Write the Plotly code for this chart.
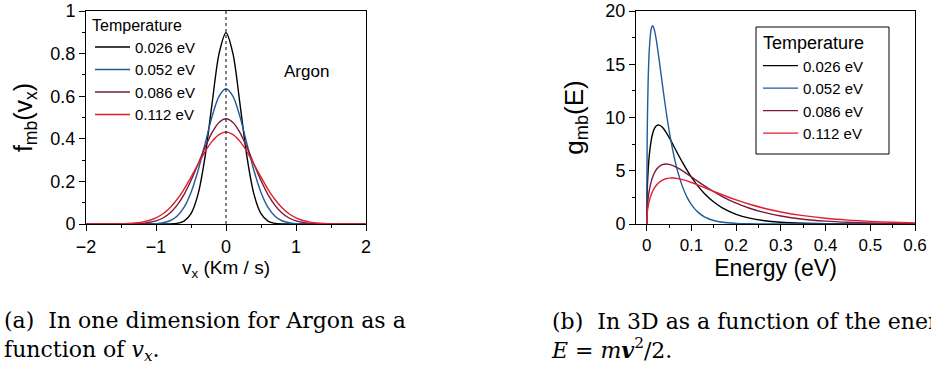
import plotly.graph_objects as go

# ---------------- data ----------------
temps = ["0.026 eV", "0.052 eV", "0.086 eV", "0.112 eV"]
colors = ["#000000", "#1f5c99", "#7b1a3c", "#e0202e"]

# (a) one-dimensional distribution, Argon
vx = [-2.0, -1.9, -1.8, -1.7, -1.6, -1.5, -1.4, -1.3, -1.2, -1.1,
      -1.0, -0.9, -0.8, -0.7, -0.6, -0.5, -0.4, -0.3, -0.2, -0.1,
      0.0,
      0.1, 0.2, 0.3, 0.4, 0.5, 0.6, 0.7, 0.8, 0.9, 1.0,
      1.1, 1.2, 1.3, 1.4, 1.5, 1.6, 1.7, 1.8, 1.9, 2.0]

f_0026 = [0, 0, 0, 0, 0, 0, 0, 0, 0, 0,
          0, 0.0001, 0.0005, 0.0030, 0.0135, 0.0486, 0.139, 0.314, 0.563, 0.799,
          0.898,
          0.799, 0.563, 0.314, 0.139, 0.0486, 0.0135, 0.0030, 0.0005, 0.0001, 0,
          0, 0, 0, 0, 0, 0, 0, 0, 0, 0]

f_0052 = [0, 0, 0, 0, 0, 0, 0, 0, 0.0001, 0.0006,
          0.0019, 0.0057, 0.0153, 0.0366, 0.078, 0.148, 0.250, 0.376, 0.503, 0.599,
          0.635,
          0.599, 0.503, 0.376, 0.250, 0.148, 0.078, 0.0366, 0.0153, 0.0057, 0.0019,
          0.0006, 0.0001, 0, 0, 0, 0, 0, 0, 0, 0]

f_0086 = [0, 0, 0, 0, 0.0001, 0.0002, 0.0005, 0.0013, 0.0030, 0.0068,
          0.0144, 0.0282, 0.0514, 0.0873, 0.138, 0.204, 0.281, 0.359, 0.429, 0.477,
          0.494,
          0.477, 0.429, 0.359, 0.281, 0.204, 0.138, 0.0873, 0.0514, 0.0282, 0.0144,
          0.0068, 0.0030, 0.0013, 0.0005, 0.0002, 0.0001, 0, 0, 0, 0]

f_0112 = [0, 0, 0.0001, 0.0002, 0.0004, 0.0010, 0.0022, 0.0045, 0.0088, 0.0164,
          0.0289, 0.0483, 0.0765, 0.115, 0.163, 0.220, 0.280, 0.339, 0.388, 0.420,
          0.432,
          0.420, 0.388, 0.339, 0.280, 0.220, 0.163, 0.115, 0.0765, 0.0483, 0.0289,
          0.0164, 0.0088, 0.0045, 0.0022, 0.0010, 0.0004, 0.0002, 0.0001, 0, 0]

# (b) 3D distribution as a function of energy
energy = [0, 0.001, 0.003, 0.006, 0.01, 0.013, 0.017, 0.022, 0.028, 0.035,
          0.043, 0.05, 0.06, 0.07, 0.08, 0.09, 0.1, 0.115, 0.13, 0.15,
          0.17, 0.2, 0.23, 0.26, 0.3, 0.35, 0.4, 0.45, 0.5, 0.55, 0.6]

g_black = [0, 2.95, 4.92, 6.57, 7.85, 8.45, 8.95, 9.24, 9.29, 9.08,
           8.63, 8.13, 7.35, 6.55, 5.78, 5.06, 4.40, 3.53, 2.82, 2.06,
           1.49, 0.909, 0.547, 0.327, 0.163, 0.067, 0.0275, 0.0111, 0.0045, 0.0018, 0.0007]

g_blue = [0, 8.19, 13.14, 16.55, 18.32, 18.62, 18.25, 17.13, 15.34, 13.11,
          10.68, 8.80, 6.56, 4.82, 3.51, 2.53, 1.82, 1.09, 0.654, 0.326,
          0.161, 0.055, 0.0186, 0.0062, 0.0014, 0.0002, 0, 0, 0, 0, 0]

g_maroon = [0, 1.398, 2.366, 3.232, 3.983, 4.386, 4.787, 5.138, 5.406, 5.572,
            5.627, 5.593, 5.455, 5.245, 4.992, 4.713, 4.423, 3.984, 3.558, 3.028,
            2.555, 1.956, 1.479, 1.110, 0.749, 0.452, 0.270, 0.160, 0.0944, 0.0553, 0.0323]

g_red = [0, 0.944, 1.606, 2.211, 2.754, 3.057, 3.373, 3.669, 3.924, 4.121,
         4.253, 4.308, 4.316, 4.264, 4.169, 4.044, 3.899, 3.657, 3.401, 3.056,
         2.721, 2.258, 1.852, 1.507, 1.132, 0.783, 0.535, 0.363, 0.245, 0.164, 0.110]

left_ticks = [-2, -1, 0, 1, 2]
right_ticks = [0, 0.1, 0.2, 0.3, 0.4, 0.5, 0.6]

caption_a = "(a)  In one dimension for Argon as a<br>function of <i>v<sub>x</sub></i>."
caption_b = ("(b)  In 3D as a function of the energy<br>"
             "<i>E</i> = <i>m</i><b><i>v</i></b><sup>2</sup>/2.")

# ---------------- figure ----------------
W, H = 931, 371
SANS = "Liberation Sans, Arial, sans-serif"
SERIF = "DejaVu Serif, Liberation Serif, serif"

fig = go.Figure()

for name, ys, c in zip(temps, [f_0026, f_0052, f_0086, f_0112], colors):
    fig.add_trace(go.Scatter(
        x=vx, y=ys, mode="lines", name=name,
        line=dict(color=c, width=1.4, shape="spline", smoothing=0.8),
        xaxis="x", yaxis="y", legend="legend"))

for name, ys, c in zip(temps, [g_black, g_blue, g_maroon, g_red], colors):
    fig.add_trace(go.Scatter(
        x=energy, y=ys, mode="lines", name=name,
        line=dict(color=c, width=1.4, shape="spline", smoothing=0.6),
        xaxis="x2", yaxis="y2", legend="legend2"))

ydom = [1 - 224 / H, 1 - 11 / H]

axis_common = dict(showline=True, linecolor="black", linewidth=1, mirror=True,
                   showgrid=False, zeroline=False, ticks="outside", ticklen=6,
                   tickwidth=1, tickcolor="black", automargin=False)

fig.update_layout(
    width=W, height=H,
    margin=dict(l=0, r=0, t=0, b=0, autoexpand=False),
    paper_bgcolor="white", plot_bgcolor="white",
    font=dict(family=SANS, color="black"),
    showlegend=True,
    xaxis=dict(domain=[86 / W, 366 / W], range=[-2, 2], tickvals=left_ticks,
               tickfont=dict(size=18),
               minor=dict(dtick=0.5, ticks="outside", ticklen=3, tickcolor="black"),
               title=dict(text="v<sub>x</sub> (Km / s)", font=dict(size=19), standoff=0),
               anchor="y", **axis_common),
    yaxis=dict(domain=ydom, range=[0, 1], dtick=0.2, tickfont=dict(size=18),
               minor=dict(dtick=0.1, ticks="outside", ticklen=3, tickcolor="black"),
               title=dict(text="f<sub>mb</sub>(v<sub>x</sub>)", font=dict(size=25), standoff=10),
               anchor="x", **axis_common),
    xaxis2=dict(domain=[636 / W, 915 / W], range=[-0.024, 0.6], tickvals=right_ticks,
                tickfont=dict(size=17),
                minor=dict(dtick=0.05, ticks="outside", ticklen=3, tickcolor="black"),
                title=dict(text="Energy (eV)", font=dict(size=23), standoff=0),
                anchor="y2", **axis_common),
    yaxis2=dict(domain=ydom, range=[0, 20], dtick=5, tickfont=dict(size=18),
                minor=dict(dtick=2.5, ticks="outside", ticklen=3, tickcolor="black"),
                title=dict(text="g<sub>mb</sub>(E)", font=dict(size=26), standoff=14),
                anchor="x2", **axis_common),
    legend=dict(x=90 / W, y=1 - 10 / H, xanchor="left", yanchor="top",
                bgcolor="rgba(0,0,0,0)", borderwidth=0,
                font=dict(size=15), itemwidth=35,
                title=dict(text="Temperature", font=dict(size=16), side="top"),
                tracegroupgap=0),
    legend2=dict(x=758 / W, y=1 - 26 / H, xanchor="left", yanchor="top",
                 bgcolor="rgba(0,0,0,0)", borderwidth=0,
                 font=dict(size=15), itemwidth=35,
                 title=dict(text="Temperature", font=dict(size=18), side="top center"),
                 tracegroupgap=0),
)

# dotted zero line in (a)
fig.add_shape(type="line", xref="x", yref="y domain", x0=0, x1=0, y0=0, y1=1,
              line=dict(color="black", width=1, dash="dot"))
# legend frame in (b)
fig.add_shape(type="rect", xref="paper", yref="paper",
              x0=756 / W, x1=889 / W, y0=1 - 154 / H, y1=1 - 27 / H,
              line=dict(color="black", width=1), fillcolor="rgba(0,0,0,0)")

# "Argon" label
fig.add_annotation(x=1.15, y=0.715, xref="x", yref="y", text="Argon",
                   showarrow=False, font=dict(size=17))

# sub-figure captions
cap_font = dict(family=SERIF, size=22, color="black")
fig.add_annotation(x=2 / W, y=1 - 336 / H, xref="paper", yref="paper",
                   xanchor="left", yanchor="middle", align="left", showarrow=False,
                   text=caption_a, font=cap_font)
fig.add_annotation(x=549 / W, y=1 - 336 / H, xref="paper", yref="paper",
                   xanchor="left", yanchor="middle", align="left", showarrow=False,
                   text=caption_b, font=cap_font)

fig.write_html("out.html")
